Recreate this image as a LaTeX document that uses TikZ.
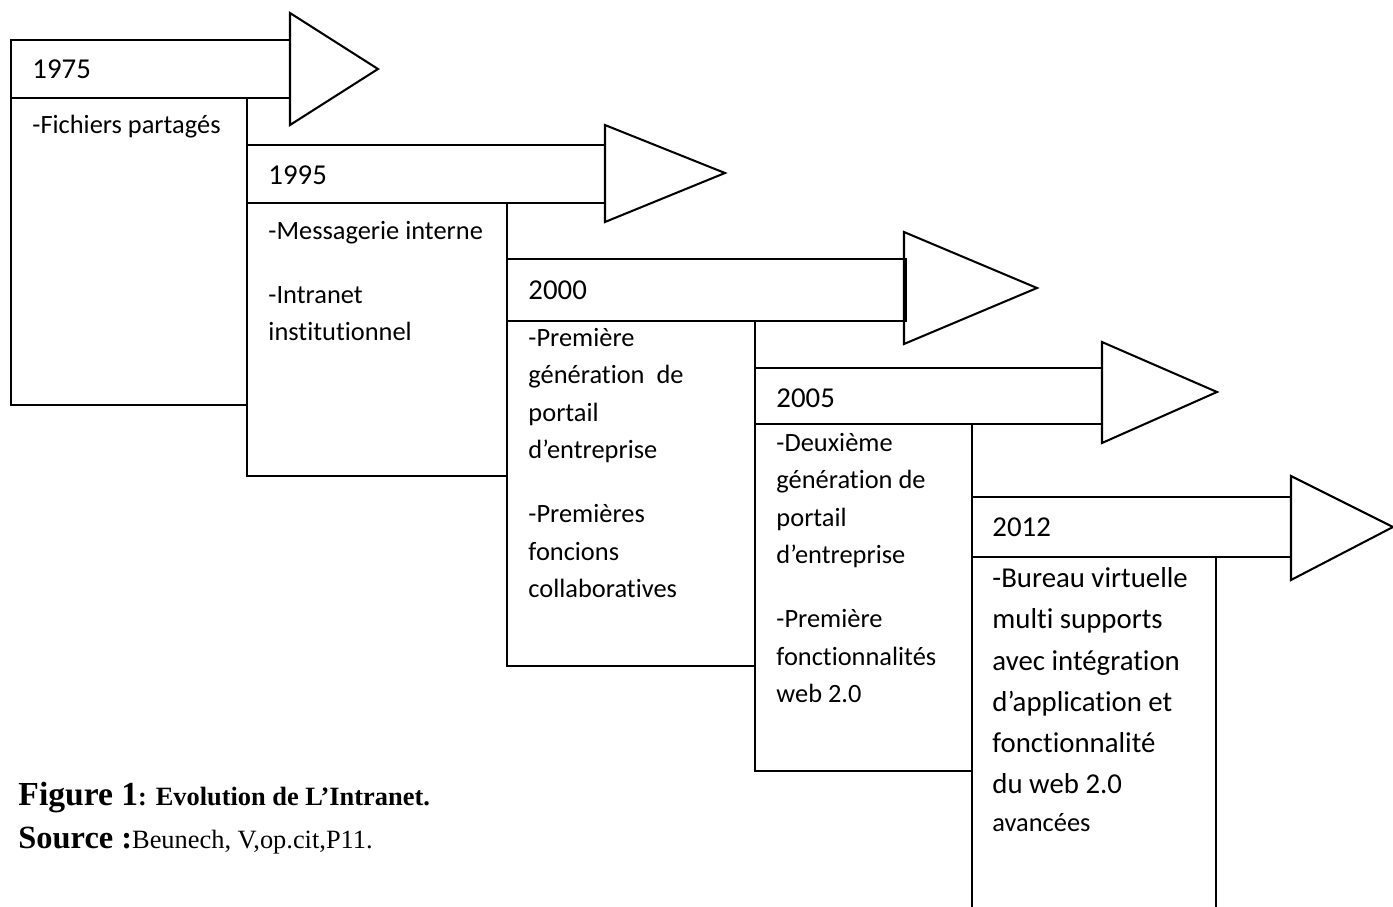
\documentclass[tikz,border=0pt]{standalone}
\usepackage{fontspec}
\setmainfont{Carlito}[Ligatures=NoCommon]
\newfontfamily\tnr{Liberation Serif}
\begin{document}
\begin{tikzpicture}[x=0.416667pt, y=-0.416667pt,
  outline/.style={draw=black, line width=0.85pt, line join=miter},
  year/.style={anchor=base west, inner sep=0pt, font=\fontsize{12}{14}\selectfont},
  body/.style={anchor=north west, inner sep=0pt, align=left, font=\fontsize{11}{15.625}\selectfont},
  bodybig/.style={anchor=north west, inner sep=0pt, align=left, font=\fontsize{12}{17.2}\selectfont},
  caption/.style={anchor=base west, inner sep=0pt}]
\useasboundingbox (0,0) rectangle (1393,907);

% ---- 1975 ----
\draw[outline] (11,40) rectangle (290,98);
\draw[outline] (290,13) -- (378,69) -- (290,125) -- cycle;
\draw[outline] (11,98) rectangle (247,405);
% ---- 1995 ----
\draw[outline] (247,145) rectangle (605,203);
\draw[outline] (605,125) -- (725,173) -- (605,222) -- cycle;
\draw[outline] (247,203) rectangle (507,476);
% ---- 2000 ----
\draw[outline] (507,259) rectangle (906,321);
\draw[outline] (904,232) -- (1037,288) -- (904,344) -- cycle;
\draw[outline] (507,321) rectangle (755,666);
% ---- 2005 ----
\draw[outline] (755,368) rectangle (1102,424);
\draw[outline] (1102,342) -- (1217,392) -- (1102,443) -- cycle;
\draw[outline] (755,424) rectangle (972,771);
% ---- 2012 ----
\draw[outline] (972,497) rectangle (1291,557);
\draw[outline] (1291,476) -- (1393,527) -- (1291,580) -- cycle;
\draw[outline] (972,557) -- (972,912);
\draw[outline] (1216,557) -- (1216,912);

% ---- years ----
\node[year] (y1975) at (32,78) {1975};
\node[year] (y1995) at (268,184) {1995};
\node[year] (y2000) at (528,299) {2000};
\node[year] (y2005) at (776,407) {2005};
\node[year] (y2012) at (992,536) {2012};

% ---- contents ----
\node[anchor=base west, inner sep=0pt, font=\fontsize{11}{15.625}\selectfont] (t1975) at (32,133) {-Fichiers partagés};
\node[body] (t1995) at (268,215) {\rule{0pt}{10pt}-Messagerie interne\\[11pt]-Intranet\\institutionnel};
\node[body] (t2000) at (528,322) {\rule{0pt}{10pt}-Première\\génération\ \ de\\portail\\d’entreprise\\[11pt]-Premières\\foncions\\collaboratives};
\node[body] (t2005) at (776,427) {\rule{0pt}{10pt}-Deuxième\\génération de\\portail\\d’entreprise\\[11pt]-Première\\fonctionnalités\\web 2.0};
\node[bodybig] (t2012) at (992,563) {\rule{0pt}{10pt}-Bureau virtuelle\\multi supports\\avec intégration\\d’application et\\fonctionnalité\\du web 2.0\\[-1.4pt]{\fontsize{11}{13}\selectfont avancées}};

% ---- caption ----
\node[caption] (fig) at (18,805) {\tnr\bfseries\fontsize{14}{16}\selectfont Figure 1\fontsize{11}{13}\selectfont: Evolution de L’Intranet.};
\node[caption] (src) at (18,848) {\tnr{\bfseries\fontsize{13.5}{16}\selectfont Source :}\fontsize{11}{13}\selectfont Beunech, V,op.cit,P11.};
\end{tikzpicture}
\end{document}
